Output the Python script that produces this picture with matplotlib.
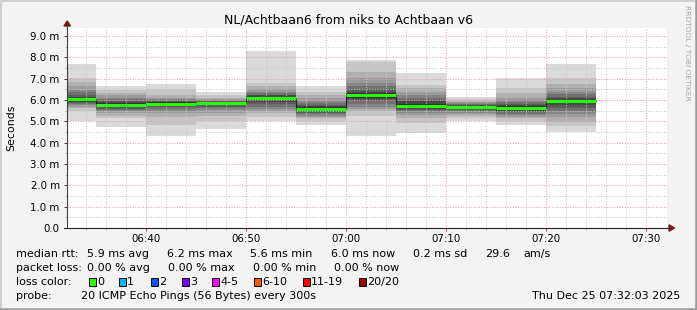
import matplotlib
matplotlib.use("Agg")
import matplotlib.pyplot as plt
import numpy as np
from matplotlib.lines import Line2D
from matplotlib.patches import Polygon, Rectangle

# Datos: 11 intervalos de 5 min, 20 pings cada uno (18 valores de humo + mediana)
seg_start = ["06:30", "06:35", "06:40", "06:45", "06:50", "06:55",
             "07:00", "07:05", "07:10", "07:15", "07:20"]
median_ms = [6.04, 5.77, 5.82, 5.86, 6.11, 5.58, 6.24, 5.72, 5.68, 5.63, 5.96]
smoke_ms = [
    [5.02, 5.46, 5.61, 5.69, 5.77, 5.82, 5.86, 5.91, 5.96, 6.08, 6.16, 6.24, 6.35, 6.47, 6.63, 6.83, 7.02, 7.69],
    [4.75, 5.15, 5.27, 5.38, 5.46, 5.52, 5.58, 5.65, 5.71, 5.85, 5.91, 5.97, 6.04, 6.11, 6.21, 6.32, 6.47, 6.66],
    [4.33, 4.83, 5.22, 5.38, 5.49, 5.57, 5.65, 5.71, 5.77, 5.88, 5.91, 5.94, 5.99, 6.04, 6.11, 6.24, 6.50, 6.75],
    [4.63, 4.99, 5.27, 5.41, 5.52, 5.61, 5.68, 5.74, 5.80, 5.88, 5.90, 5.93, 5.96, 5.99, 6.04, 6.11, 6.24, 6.39],
    [5.02, 5.22, 5.38, 5.49, 5.58, 5.69, 5.80, 5.90, 6.00, 6.16, 6.21, 6.25, 6.32, 6.39, 6.50, 6.63, 6.78, 8.31],
    [4.83, 5.02, 5.15, 5.21, 5.27, 5.33, 5.39, 5.46, 5.52, 5.65, 5.71, 5.77, 5.85, 5.96, 6.08, 6.24, 6.39, 6.63],
    [4.33, 5.27, 5.46, 5.58, 5.69, 5.80, 5.93, 6.04, 6.11, 6.32, 6.39, 6.50, 6.63, 6.78, 7.02, 7.33, 7.77, 7.88],
    [4.44, 4.91, 5.15, 5.30, 5.38, 5.46, 5.52, 5.58, 5.65, 5.83, 5.93, 6.02, 6.11, 6.24, 6.39, 6.55, 6.70, 7.28],
    [4.99, 5.15, 5.25, 5.33, 5.39, 5.46, 5.52, 5.57, 5.61, 5.72, 5.76, 5.78, 5.82, 5.85, 5.90, 5.96, 6.05, 6.16],
    [4.83, 5.02, 5.15, 5.22, 5.30, 5.36, 5.43, 5.49, 5.55, 5.71, 5.77, 5.83, 5.90, 5.99, 6.11, 6.32, 6.58, 7.02],
    [4.49, 4.80, 4.96, 5.18, 5.33, 5.49, 5.61, 5.74, 5.85, 6.00, 6.08, 6.16, 6.27, 6.39, 6.55, 6.74, 7.02, 7.69],
]
x_ticks = ["06:40", "06:50", "07:00", "07:10", "07:20", "07:30"]
y_ticks = [0, 1, 2, 3, 4, 5, 6, 7, 8, 9]

title = "NL/Achtbaan6 from niks to Achtbaan v6"
rtt_stats = ["5.9 ms avg", "6.2 ms max", "5.6 ms min", "6.0 ms now", "0.2 ms sd", "29.6", "am/s"]
loss_stats = ["0.00 % avg", "0.00 % max", "0.00 % min", "0.00 % now"]
loss_labels = ["0", "1", "2", "3", "4-5", "6-10", "11-19", "20/20"]
loss_colors = ["#26ff00", "#00b8ff", "#0059ff", "#7e00ff", "#ff00ff", "#ff5500", "#ff0000", "#a10000"]
probe_text = "20 ICMP Echo Pings (56 Bytes) every 300s"
stamp = "Thu Dec 25 07:32:03 2025"

def minutes(t):
    h, m = t.split(":")
    return int(h) * 60 + int(m) - 360

W, H = 697, 310
fig = plt.figure(figsize=(W / 100, H / 100), dpi=100)
fig.patch.set_facecolor("#f3f3f3")

def fx(x):
    return x / W

def fy(y):
    return 1 - y / H

ax = fig.add_axes([fx(67), fy(228), 600 / W, 200 / H])
ax.set_facecolor("white")
ax.set_xlim(32.1, 92.1)
ax.set_ylim(0, 9.37)

xs = np.array([minutes(t) for t in seg_start])
smoke = np.array(smoke_ms)

# humo: 9 bandas, de la exterior (clara) a la interior (oscura)
for k in range(9):
    g = int(190 / 9 * (8 - k)) + 50
    col = "#%02x%02x%02x" % (g, g, g)
    ax.bar(xs, smoke[:, 17 - k] - smoke[:, k], bottom=smoke[:, k], width=5,
           align="edge", color=col, linewidth=0, zorder=1)

# mediana
ax.step(np.append(xs, xs[-1] + 5), np.append(median_ms, median_ms[-1]),
        where="post", color="#202020", lw=0.8, zorder=4)
ax.hlines(median_ms, xs, xs + 5, color=loss_colors[0], lw=2.2, zorder=5)

# rejilla
ax.set_axisbelow(False)
ax.set_xticks([minutes(t) for t in x_ticks])
ax.set_xticklabels(x_ticks)
ax.set_xticks(np.arange(34, 92, 2), minor=True)
ax.set_yticks(y_ticks)
ax.set_yticklabels(["0.0"] + ["%.1f m" % v for v in y_ticks[1:]])
ax.set_yticks(np.arange(0.5, 9.4, 0.5), minor=True)
ax.grid(which="major", color="#e8a4a4", lw=0.75, ls=(0, (1, 1.5)))
ax.grid(which="minor", color="#c8c8c8", lw=0.75, ls=(0, (1, 1.5)))
ax.tick_params(which="major", length=2, width=0.7, color="#c04040", labelsize=7.4,
               labelcolor="#000000")
ax.tick_params(axis="y", which="major", color="#404040", pad=3.2)
ax.tick_params(axis="x", which="major", pad=2.2)
ax.tick_params(which="minor", length=1.5, width=0.7, color="#b0b0b0")
for s in ax.spines.values():
    s.set_visible(False)

# ejes con flechas
fig.add_artist(Line2D([fx(67), fx(67)], [fy(228), fy(26)], color="#404040", lw=0.8))
fig.add_artist(Line2D([fx(64), fx(669)], [fy(228), fy(228)], color="#202020", lw=0.8))
fig.add_artist(Polygon([[fx(64), fy(26)], [fx(70.5), fy(26)], [fx(67.2), fy(21)]],
                       closed=True, color="#7f1818"))
fig.add_artist(Polygon([[fx(669), fy(224.8)], [fx(669), fy(231.2)], [fx(674.5), fy(228)]],
                       closed=True, color="#7f1818"))

# textos
fig.text(fx(348), fy(20), title, ha="center", va="center", fontsize=9)
fig.text(fx(11), fy(128), "Seconds", ha="center", va="center", rotation=90, fontsize=7.9)
fig.text(fx(687), fy(5), "RRDTOOL / TOBI OETIKER", ha="center", va="top",
         rotation=270, fontsize=5.4, color="#a8a8a8")

fs = 8
row = [254, 268, 282, 296]
fig.text(fx(16), fy(row[0]), "median rtt:", va="center", fontsize=fs)
for x, s in zip([87, 167, 250, 331, 413, 485, 523], rtt_stats):
    fig.text(fx(x), fy(row[0]), s, va="center", fontsize=fs)
fig.text(fx(16), fy(row[1]), "packet loss:", va="center", fontsize=fs)
for x, s in zip([87, 168, 253, 334], loss_stats):
    fig.text(fx(x), fy(row[1]), s, va="center", fontsize=fs)
fig.text(fx(16), fy(row[2]), "loss color:", va="center", fontsize=fs)
for x, s, c in zip([89, 119, 151, 182, 212, 254, 303, 359], loss_labels, loss_colors):
    fig.add_artist(Rectangle((fx(x), fy(row[2] + 4)), 7 / W, 8 / H, facecolor=c,
                             edgecolor="black", lw=0.7))
    fig.text(fx(x + 8), fy(row[2]), s, va="center", fontsize=fs)
fig.text(fx(16), fy(row[3]), "probe:", va="center", fontsize=fs)
fig.text(fx(81), fy(row[3]), probe_text, va="center", fontsize=fs)
fig.text(fx(680), fy(row[3]), stamp, ha="right", va="center", fontsize=fs)

# marco
fig.add_artist(Line2D([0, 1], [fy(1), fy(1)], color="#d0d0d0", lw=1.5))
fig.add_artist(Line2D([fx(1), fx(1)], [0, 1], color="#d0d0d0", lw=1.5))
fig.add_artist(Line2D([0, 1], [fy(309), fy(309)], color="#9c9c9c", lw=1.8))
fig.add_artist(Line2D([fx(696), fx(696)], [0, 1], color="#9c9c9c", lw=1.8))

fig.savefig("out.png", dpi=100, facecolor=fig.get_facecolor())
